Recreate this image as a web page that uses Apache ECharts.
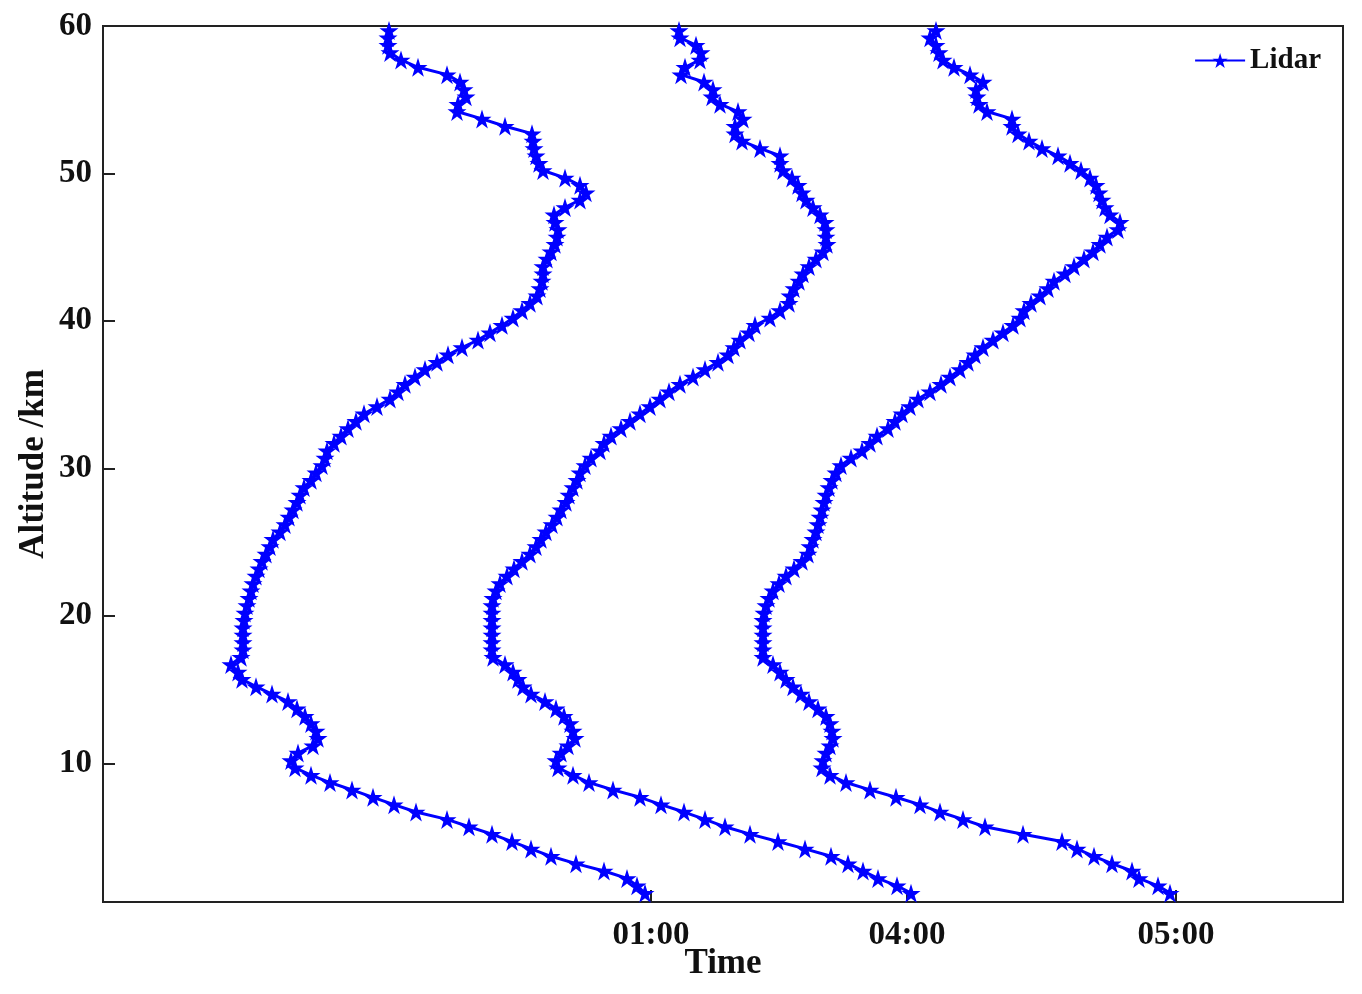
<!DOCTYPE html>
<html>
<head>
<meta charset="utf-8">
<title>Lidar altitude profiles</title>
<script src="https://cdn.jsdelivr.net/npm/echarts@6/dist/echarts.min.js"></script>
<style>
  html, body { margin: 0; padding: 0; background: #fff; }
  #chart { width: 1362px; height: 994px; }
</style>
</head>
<body>
<div id="chart"></div>
<script>
// altitude grid (km), shared by the three profiles
const altitudeKm = [
  1.2, 1.7, 2.2, 2.7, 3.2, 3.7, 4.2, 4.7, 5.2, 5.7,
  6.2, 6.7, 7.2, 7.7, 8.2, 8.7, 9.2, 9.7, 10.2, 10.7,
  11.2, 11.7, 12.2, 12.7, 13.2, 13.7, 14.2, 14.7, 15.2, 15.7,
  16.2, 16.7, 17.2, 17.7, 18.2, 18.7, 19.2, 19.7, 20.2, 20.7,
  21.2, 21.7, 22.2, 22.7, 23.2, 23.7, 24.2, 24.7, 25.2, 25.7,
  26.2, 26.7, 27.2, 27.7, 28.2, 28.7, 29.2, 29.7, 30.2, 30.7,
  31.2, 31.7, 32.2, 32.7, 33.2, 33.7, 34.2, 34.7, 35.2, 35.7,
  36.2, 36.7, 37.2, 37.7, 38.2, 38.7, 39.2, 39.7, 40.2, 40.7,
  41.2, 41.7, 42.2, 42.7, 43.2, 43.7, 44.2, 44.7, 45.2, 45.7,
  46.2, 46.7, 47.2, 47.7, 48.2, 48.7, 49.2, 49.7, 50.2, 50.7,
  51.2, 51.7, 52.2, 52.7, 53.2, 53.7, 54.2, 54.7, 55.2, 55.7,
  56.2, 56.7, 57.2, 57.7, 58.2, 58.7, 59.2, 59.7
]

// horizontal position of each profile (offset units along the time axis)
const profile0100 = [
  645, 637, 627, 604, 576, 551, 531, 512, 492, 469,
  447, 416, 394, 373, 352, 330, 311, 295, 291, 298,
  313, 318, 316, 311, 305, 297, 288, 272, 256, 242,
  238, 231, 241, 243, 243, 243, 243, 244, 245, 247,
  249, 251, 253, 256, 259, 262, 266, 270, 273, 280,
  285, 289, 293, 297, 300, 304, 311, 316, 322, 325,
  327, 334, 341, 348, 356, 364, 377, 390, 398, 405,
  415, 425, 437, 448, 462, 478, 490, 502, 513, 522,
  530, 537, 540, 542, 543, 543, 547, 551, 555, 557,
  558, 555, 554, 565, 580, 586, 580, 565, 543, 539,
  536, 534, 533, 532, 505, 482, 457, 458, 466, 464,
  460, 447, 418, 401, 390, 388, 388, 389
]

const profile0400 = [
  911, 897, 878, 863, 848, 831, 805, 778, 750, 725,
  705, 684, 661, 640, 613, 589, 573, 558, 556, 561,
  568, 575, 573, 570, 564, 556, 545, 531, 523, 518,
  513, 505, 493, 492, 492, 492, 492, 492, 492, 492,
  493, 496, 500, 507, 514, 522, 530, 536, 541, 546,
  552, 557, 561, 566, 569, 573, 577, 580, 585, 591,
  600, 604, 611, 621, 630, 640, 650, 660, 669, 680,
  693, 705, 718, 728, 734, 740, 749, 755, 770, 780,
  789, 790, 794, 799, 803, 809, 816, 823, 827, 826,
  826, 825, 820, 813, 806, 802, 798, 792, 783, 780,
  780, 760, 742, 735, 735, 743, 738, 720, 712, 713,
  704, 681, 685, 700, 701, 696, 680, 679
]

const profile0500 = [
  1170, 1158, 1139, 1132, 1112, 1094, 1077, 1062, 1023, 985,
  963, 940, 920, 896, 870, 846, 830, 822, 823, 826,
  830, 833, 832, 830, 826, 818, 809, 801, 793, 786,
  780, 773, 763, 763, 763, 763, 763, 763, 764, 766,
  769, 773, 779, 786, 794, 802, 808, 810, 813, 816,
  818, 820, 822, 824, 826, 829, 832, 836, 841, 851,
  862, 870, 877, 888, 895, 902, 910, 918, 930, 941,
  950, 960, 968, 975, 983, 993, 1003, 1013, 1020, 1024,
  1031, 1040, 1048, 1054, 1065, 1074, 1084, 1093, 1100, 1107,
  1118, 1120, 1110, 1105, 1102, 1099, 1096, 1090, 1081, 1070,
  1058, 1042, 1029, 1018, 1012, 1012, 987, 979, 977, 976,
  983, 970, 954, 943, 939, 936, 930, 936
]

// time axis: labelled positions and their labels
const timeTickPos = [651, 907, 1176]
const timeLabels = ['01:00', '04:00', '05:00']
const altitudeTicks = [10, 20, 30, 40, 50, 60]

const FONT = 'Liberation Serif, Times New Roman, serif'
const STAR = 'path://M50,0 L61.2,34.5 L97.6,34.5 L68.2,55.9 L79.4,90.5 L50,69.1 L20.6,90.5 L31.8,55.9 L2.4,34.5 L38.8,34.5 Z'

function toSeries(xs) {
  return {
    name: 'Lidar',
    type: 'line',
    data: xs.map((x, i) => [x, altitudeKm[i]]),
    symbol: STAR,
    symbolSize: 19,
    showSymbol: true,
    lineStyle: { color: '#0000ff', width: 3 },
    itemStyle: { color: '#0000ff' },
    z: 3
  }
}

const chart = echarts.init(document.getElementById('chart'))
chart.setOption({
  animation: false,
  textStyle: { fontFamily: FONT },
  grid: {
    left: 103,
    right: 19,
    top: 26,
    bottom: 92,
    outerBoundsMode: 'none',
    show: true,
    borderColor: '#222',
    borderWidth: 2
  },
  legend: {
    data: ['Lidar'],
    right: 36,
    top: 41,
    itemWidth: 50,
    itemHeight: 19,
    itemGap: 4,
    textStyle: { fontFamily: FONT, fontWeight: 'bold', fontSize: 29, color: '#111' }
  },
  xAxis: {
    type: 'value',
    min: 103,
    max: 1343,
    name: 'Time',
    nameLocation: 'middle',
    nameGap: 44,
    nameMoveOverlap: false,
    nameTextStyle: { fontFamily: FONT, fontWeight: 'bold', fontSize: 35, color: '#111' },
    axisLine: { show: true, lineStyle: { color: '#222', width: 2 } },
    axisTick: {
      show: true,
      inside: true,
      length: 12,
      customValues: timeTickPos,
      lineStyle: { color: '#222', width: 2 }
    },
    axisLabel: {
      customValues: timeTickPos,
      margin: 17,
      fontFamily: FONT,
      fontWeight: 'bold',
      fontSize: 33,
      color: '#111',
      formatter: (v) => timeLabels[timeTickPos.indexOf(v)] || ''
    },
    splitLine: { show: false }
  },
  yAxis: {
    type: 'value',
    min: 0.6,
    max: 60,
    name: 'Altitude /km',
    nameLocation: 'middle',
    nameGap: 52,
    nameMoveOverlap: false,
    nameTextStyle: { fontFamily: FONT, fontWeight: 'bold', fontSize: 35, color: '#111' },
    axisLine: { show: true, lineStyle: { color: '#222', width: 2 } },
    axisTick: {
      show: true,
      inside: true,
      length: 12,
      customValues: altitudeTicks,
      lineStyle: { color: '#222', width: 2 }
    },
    axisLabel: {
      customValues: altitudeTicks,
      margin: 11,
      fontFamily: FONT,
      fontWeight: 'bold',
      fontSize: 33,
      color: '#111'
    },
    splitLine: { show: false }
  },
  series: [
    toSeries(profile0100),
    toSeries(profile0400),
    toSeries(profile0500)
  ]
})
</script>
</body>
</html>
